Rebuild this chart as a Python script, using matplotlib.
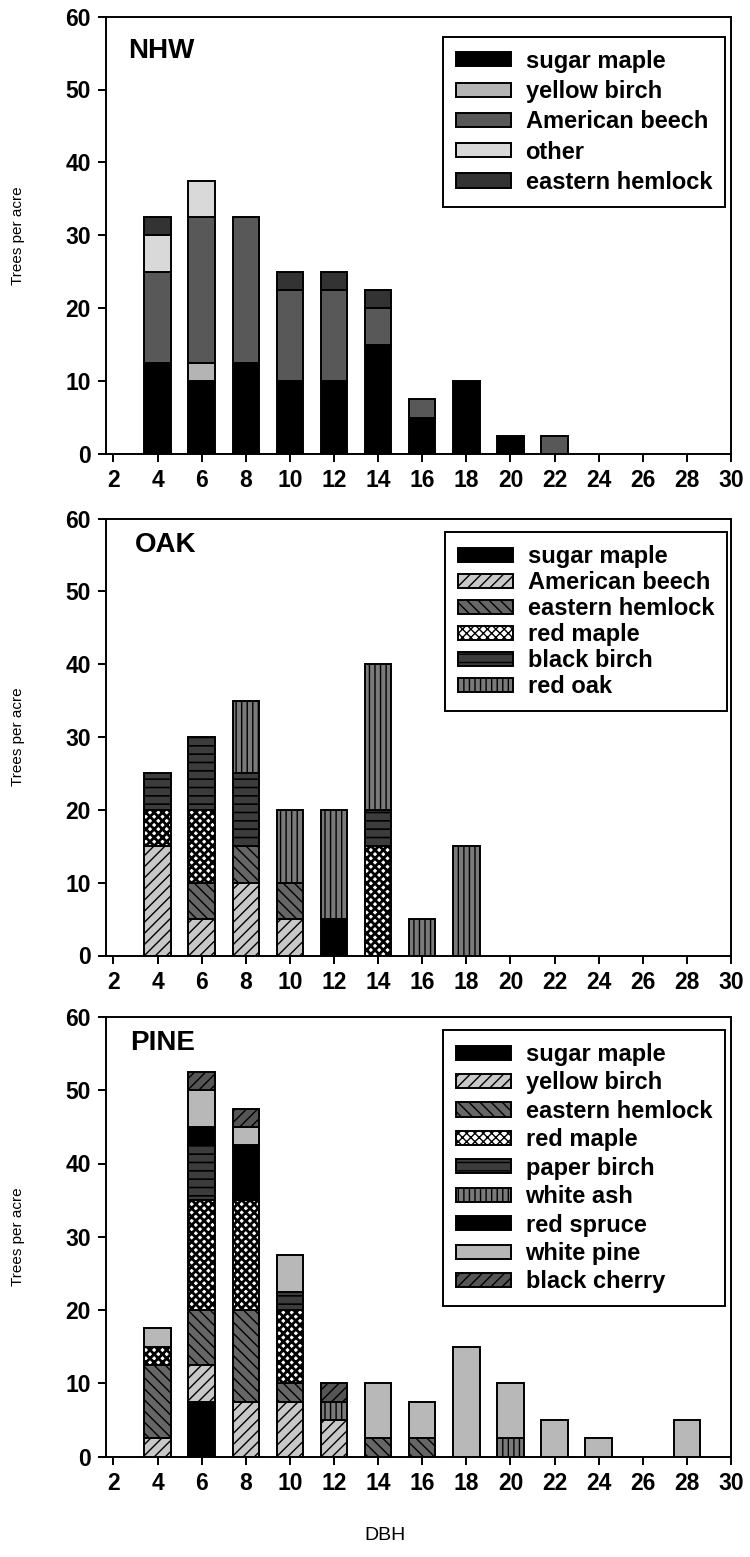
import matplotlib
matplotlib.use("Agg")
import matplotlib.pyplot as plt
import matplotlib.patches as mpatches
import numpy as np

plt.rcParams['font.family'] = ['Liberation Sans', 'DejaVu Sans']
plt.rcParams['hatch.linewidth'] = 1.0

dbh = [4, 6, 8, 10, 12, 14, 16, 18, 20, 22, 24, 26, 28]
xticks = list(range(2, 31, 2))

# NHW
nhw_species = ["sugar maple", "yellow birch", "American beech", "other", "eastern hemlock"]
nhw_sugar_maple = [12.5, 10, 12.5, 10, 10, 15, 5, 10, 2.5, 0, 0, 0, 0]
nhw_yellow_birch = [0, 2.5, 0, 0, 0, 0, 0, 0, 0, 0, 0, 0, 0]
nhw_american_beech = [12.5, 20, 20, 12.5, 12.5, 5, 2.5, 0, 0, 2.5, 0, 0, 0]
nhw_other = [5, 5, 0, 0, 0, 0, 0, 0, 0, 0, 0, 0, 0]
nhw_eastern_hemlock = [2.5, 0, 0, 2.5, 2.5, 2.5, 0, 0, 0, 0, 0, 0, 0]

# OAK
oak_species = ["sugar maple", "American beech", "eastern hemlock", "red maple", "black birch", "red oak"]
oak_sugar_maple = [0, 0, 0, 0, 5, 0, 0, 0, 0, 0, 0, 0, 0]
oak_american_beech = [15, 5, 10, 5, 0, 0, 0, 0, 0, 0, 0, 0, 0]
oak_eastern_hemlock = [0, 5, 5, 5, 0, 0, 0, 0, 0, 0, 0, 0, 0]
oak_red_maple = [5, 10, 0, 0, 0, 15, 0, 0, 0, 0, 0, 0, 0]
oak_black_birch = [5, 10, 10, 0, 0, 5, 0, 0, 0, 0, 0, 0, 0]
oak_red_oak = [0, 0, 10, 10, 15, 20, 5, 15, 0, 0, 0, 0, 0]

# PINE
pine_species = ["sugar maple", "yellow birch", "eastern hemlock", "red maple", "paper birch",
                "white ash", "red spruce", "white pine", "black cherry"]
pine_sugar_maple = [0, 7.5, 0, 0, 0, 0, 0, 0, 0, 0, 0, 0, 0]
pine_yellow_birch = [2.5, 5, 7.5, 7.5, 5, 0, 0, 0, 0, 0, 0, 0, 0]
pine_eastern_hemlock = [10, 7.5, 12.5, 2.5, 0, 2.5, 2.5, 0, 0, 0, 0, 0, 0]
pine_red_maple = [2.5, 15, 15, 10, 0, 0, 0, 0, 0, 0, 0, 0, 0]
pine_paper_birch = [0, 7.5, 0, 2.5, 0, 0, 0, 0, 0, 0, 0, 0, 0]
pine_white_ash = [0, 0, 0, 0, 2.5, 0, 0, 0, 2.5, 0, 0, 0, 0]
pine_red_spruce = [0, 2.5, 7.5, 0, 0, 0, 0, 0, 0, 0, 0, 0, 0]
pine_white_pine = [2.5, 5, 2.5, 5, 0, 7.5, 5, 15, 7.5, 5, 2.5, 0, 5]
pine_black_cherry = [0, 2.5, 2.5, 0, 2.5, 0, 0, 0, 0, 0, 0, 0, 0]

# styles: (facecolor, hatch, hatch linewidth)
nhw_styles = [("#000000", None, 1.0), ("#b4b4b4", None, 1.0), ("#585858", None, 1.0),
              ("#d9d9d9", None, 1.0), ("#333333", None, 1.0)]
oak_styles = [("#000000", None, 1.0), ("#c8c8c8", "///", 1.0), ("#666666", "\\\\\\", 1.0),
              ("#ffffff", "xxxx", 2.0), ("#3c3c3c", "--", 1.2), ("#7a7a7a", "|||", 1.0)]
pine_styles = [("#000000", None, 1.0), ("#c8c8c8", "///", 1.0), ("#666666", "\\\\\\", 1.0),
               ("#ffffff", "xxxx", 2.0), ("#3c3c3c", "--", 1.2), ("#7a7a7a", "|||", 1.0),
               ("#000000", None, 1.0), ("#b8b8b8", None, 1.0), ("#555555", "///", 1.0)]

panels = [
    ("NHW", nhw_species, [nhw_sugar_maple, nhw_yellow_birch, nhw_american_beech,
                          nhw_other, nhw_eastern_hemlock], nhw_styles,
     (16.6, 454), (725, 36.7), (128, 51), 0.31),
    ("OAK", oak_species, [oak_sugar_maple, oak_american_beech, oak_eastern_hemlock,
                          oak_red_maple, oak_black_birch, oak_red_oak], oak_styles,
     (518.5, 955.5), (727, 532), (135, 545), 0.13),
    ("PINE", pine_species, [pine_sugar_maple, pine_yellow_birch, pine_eastern_hemlock,
                            pine_red_maple, pine_paper_birch, pine_white_ash,
                            pine_red_spruce, pine_white_pine, pine_black_cherry], pine_styles,
     (1017, 1456.5), (725, 1030), (130, 1043), 0.23),
]

W, H = 750, 1557
fig = plt.figure(figsize=(W / 100, H / 100), dpi=100)


def set_hlw(p, lw):
    if hasattr(p, "set_hatch_linewidth"):
        p.set_hatch_linewidth(lw)


left_px, right_px = 106, 731
for name, species, series, styles, (top_px, bot_px), (lx, ly), (tx, ty), lsp in panels:
    ax = fig.add_axes([left_px / W, 1 - bot_px / H, (right_px - left_px) / W, (bot_px - top_px) / H])
    axw, axh = right_px - left_px, bot_px - top_px
    bottom = np.zeros(len(dbh))
    handles = []
    for sp, vals, (fc, hatch, hlw) in zip(species, series, styles):
        vals = np.array(vals, dtype=float)
        bars = ax.bar(dbh, vals, width=1.2, bottom=bottom, color=fc, edgecolor="black",
                      linewidth=1.4, hatch=hatch, zorder=3)
        for p, v in zip(bars.patches, vals):
            set_hlw(p, hlw)
            if v == 0:
                p.set_visible(False)
        h = mpatches.Patch(facecolor=fc, edgecolor="black", linewidth=1.4, hatch=hatch, label=sp)
        set_hlw(h, hlw)
        handles.append(h)
        bottom += vals
    ax.set_xlim(1.66, 30)
    ax.set_ylim(0, 60)
    ax.set_xticks(xticks)
    ax.set_yticks(range(0, 61, 10))
    ax.tick_params(direction="out", length=6, width=1.4, labelsize=16.5, pad=5)
    for lab in ax.get_xticklabels() + ax.get_yticklabels():
        lab.set_fontweight("bold")
    for s in ax.spines.values():
        s.set_linewidth(1.4)
    ax.text((tx - left_px) / axw, (bot_px - ty) / axh, name, transform=ax.transAxes,
            fontsize=20, fontweight="bold", ha="left", va="center")
    leg = ax.legend(handles=handles, loc="upper right",
                    bbox_to_anchor=((lx - left_px) / axw, (bot_px - ly) / axh),
                    frameon=True, fancybox=False, edgecolor="black", framealpha=1,
                    prop={"weight": "bold", "size": 17}, handlelength=2.36,
                    handleheight=0.55, labelspacing=lsp, borderpad=0.55,
                    handletextpad=0.6, borderaxespad=0)
    leg.get_frame().set_linewidth(1.4)
    leg.set_zorder(5)
    fig.text(18 / W, 1 - ((top_px + bot_px) / 2) / H, "Trees per acre", rotation=90,
             ha="center", va="center", fontsize=11)

fig.text(385 / W, 1 - 1535 / H, "DBH", ha="center", va="center", fontsize=14)

fig.savefig("out.png", dpi=100)
